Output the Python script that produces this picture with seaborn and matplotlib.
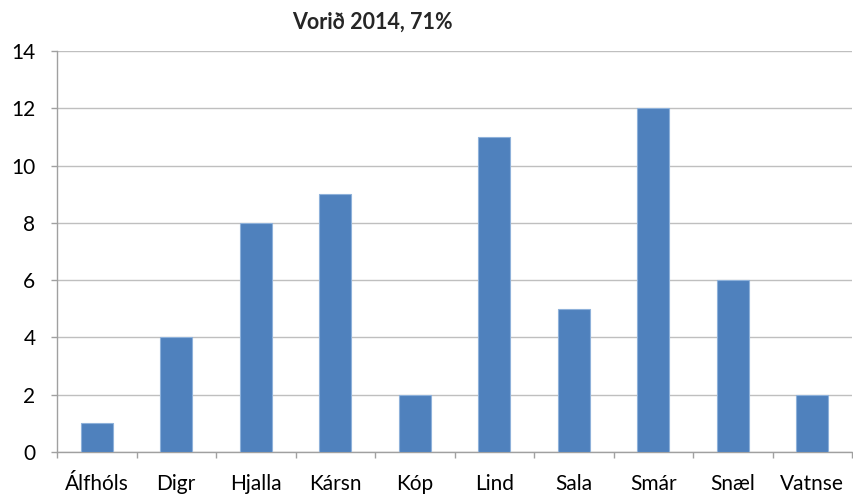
import matplotlib
matplotlib.use("Agg")
import matplotlib.pyplot as plt
import seaborn as sns
import pandas as pd

categories = ["Álfhóls", "Digr", "Hjalla", "Kársn", "Kóp", "Lind", "Sala", "Smár", "Snæl", "Vatnse"]
values = [1, 4, 8, 9, 2, 11, 5, 12, 6, 2]
yticks = [0, 2, 4, 6, 8, 10, 12, 14]
title = "Vorið 2014, 71%"

sns.set_theme(style="white")
plt.rcParams['font.family'] = ['Lato', 'DejaVu Sans']

df = pd.DataFrame({"cat": categories, "val": values})

W, H = 854, 495
fig = plt.figure(figsize=(W / 100, H / 100), dpi=100)
ax = fig.add_axes([57 / W, 1 - 452 / H, (852 - 57) / W, (452 - 51) / H])

sns.barplot(data=df, x="cat", y="val", color="#4F81BD", saturation=1, width=0.4,
            edgecolor="#8EB1DA", linewidth=0.8, ax=ax, zorder=3)

ax.set_xlim(-0.5, len(categories) - 0.5)
ax.set_ylim(0, 14)
ax.set_yticks(yticks)
ax.set_yticklabels([str(t) for t in yticks], fontsize=15, color="black")
ax.set_xticks(range(len(categories)))
ax.set_xticklabels(categories, fontsize=15, color="black")
ax.set_xlabel("")
ax.set_ylabel("")

ax.yaxis.grid(True, color="#BFBFBF", linewidth=1.0, zorder=0)
ax.set_axisbelow(True)

for s in ["top", "right"]:
    ax.spines[s].set_visible(False)
for s in ["left", "bottom"]:
    ax.spines[s].set_color("#A0A0A0")
    ax.spines[s].set_linewidth(1.0)

ax.tick_params(axis="y", which="major", left=True, length=4.5, width=1, color="#A0A0A0", pad=11)
ax.tick_params(axis="x", which="major", bottom=False, pad=10)
ax.set_xticks([i - 0.5 for i in range(len(categories) + 1)], minor=True)
ax.tick_params(axis="x", which="minor", bottom=True, length=4.5, width=1, color="#A0A0A0")

fig.text(372 / W, 1 - 22 / H, title, ha="center", va="center", fontsize=15.5, fontweight="bold")

fig.savefig("out.png", dpi=100)
